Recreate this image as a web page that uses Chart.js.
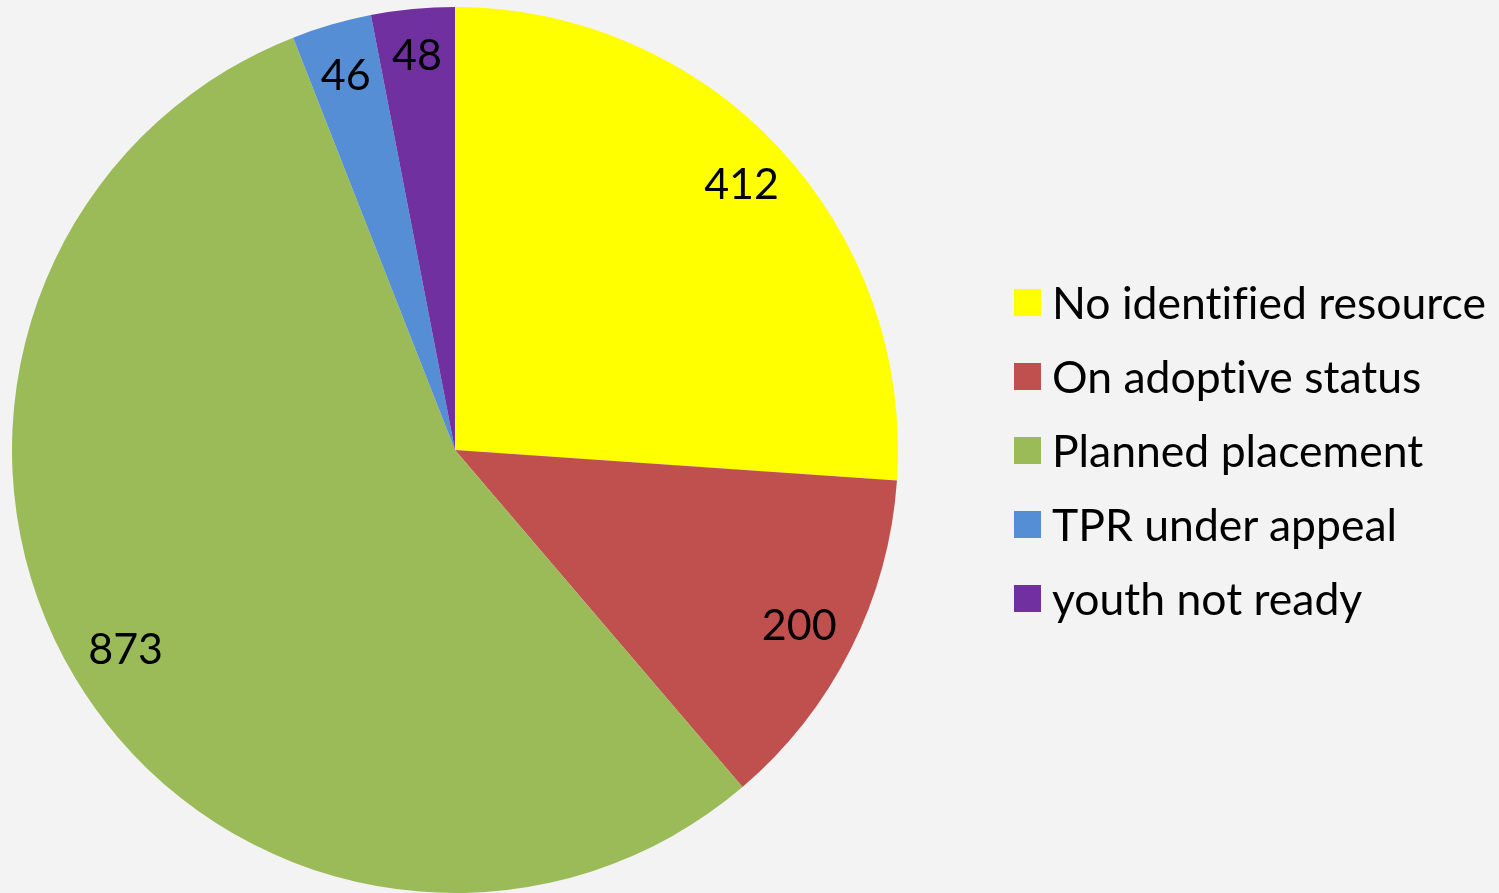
<!DOCTYPE html>
<html>
<head>
<meta charset="utf-8">
<script src="https://cdn.jsdelivr.net/npm/chart.js@4/dist/chart.umd.min.js"></script>
<style>
  html, body { margin: 0; padding: 0; background: #f3f3f3; }
  #wrap { position: relative; width: 1499px; height: 893px; overflow: hidden; background: #f3f3f3; }
  #c { position: absolute; left: 0; top: 0; }
  #legend { position: absolute; left: 1014px; top: 278px; font-family: Lato, "Open Sans", sans-serif; font-size: 44.5px; color: #000; font-variant-ligatures: none; }
  .row { position: relative; height: 74px; }
  .sw { position: absolute; left: 0; top: 11px; width: 27px; height: 27px; }
  .lb { position: absolute; left: 38px; top: 0; line-height: 48px; white-space: nowrap; }
</style>
</head>
<body>
<div id="wrap">
  <canvas id="c" width="1499" height="893"></canvas>
  <div id="legend"></div>
</div>
<script>
const categories = ["No identified resource", "On adoptive status", "Planned placement", "TPR under appeal", "youth not ready"];
const values = [412, 200, 873, 46, 48];
const colors = ["#FFFF00", "#C0504D", "#9BBB59", "#558ED5", "#7030A0"];
const labelRadius = [0.885, 0.87, 0.867, 0.885, 0.9];

const labelPlugin = {
  id: 'sliceLabels',
  afterDatasetsDraw(chart) {
    const ctx = chart.ctx;
    const meta = chart.getDatasetMeta(0);
    ctx.save();
    ctx.font = '43px Lato, "Open Sans", sans-serif';
    ctx.fillStyle = '#000';
    ctx.textAlign = 'center';
    ctx.textBaseline = 'middle';
    meta.data.forEach((arc, i) => {
      const p = arc.getProps(['x', 'y', 'startAngle', 'endAngle', 'outerRadius'], true);
      const mid = (p.startAngle + p.endAngle) / 2;
      const r = p.outerRadius * labelRadius[i];
      ctx.fillText(String(values[i]), p.x + Math.cos(mid) * r, p.y + Math.sin(mid) * r + 3);
    });
    ctx.restore();
  }
};

new Chart(document.getElementById('c'), {
  type: 'pie',
  data: {
    labels: categories,
    datasets: [{ data: values, backgroundColor: colors, borderWidth: 0 }]
  },
  options: {
    responsive: false,
    animation: false,
    layout: { padding: { left: 12, right: 601, top: 7, bottom: 0 } },
    plugins: { legend: { display: false }, tooltip: { enabled: false } }
  },
  plugins: [labelPlugin]
});

const leg = document.getElementById('legend');
categories.forEach((c, i) => {
  const row = document.createElement('div');
  row.className = 'row';
  const sw = document.createElement('div');
  sw.className = 'sw';
  sw.style.background = colors[i];
  const lb = document.createElement('div');
  lb.className = 'lb';
  lb.textContent = c;
  row.appendChild(sw); row.appendChild(lb);
  leg.appendChild(row);
});
</script>
</body>
</html>
